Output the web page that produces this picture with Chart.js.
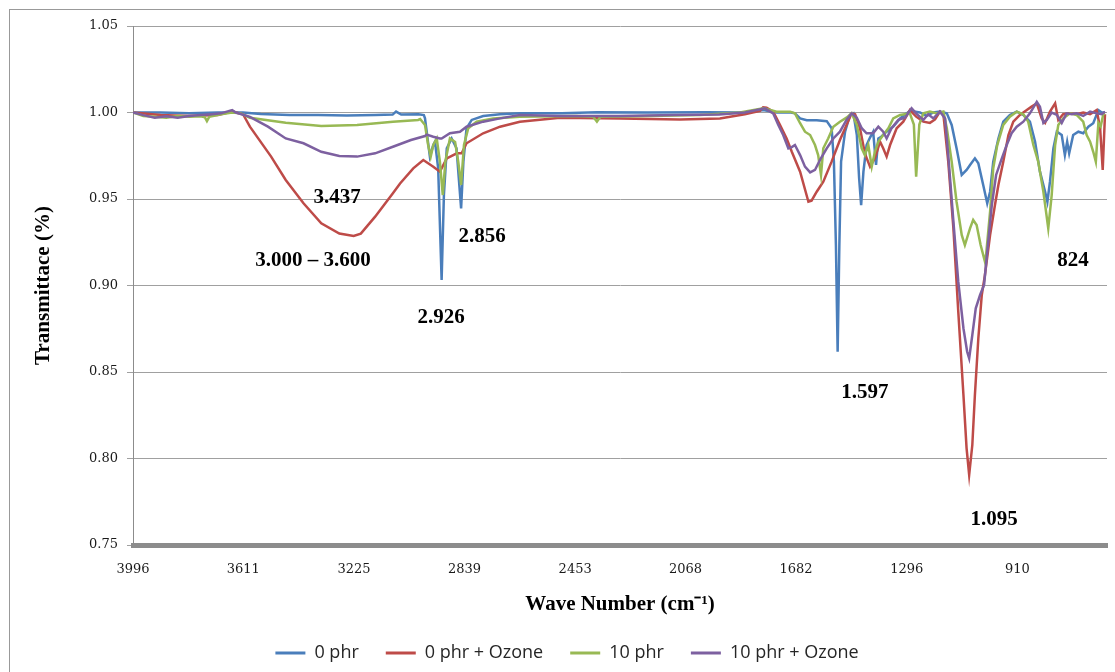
<!DOCTYPE html>
<html>
<head>
<meta charset="utf-8">
<title>FTIR spectra</title>
<script src="https://cdn.jsdelivr.net/npm/chart.js@4.4.1/dist/chart.umd.min.js"></script>
<style>
  html, body { margin: 0; padding: 0; background: #fff; }
  #wrap { position: relative; width: 1115px; height: 672px; }
</style>
</head>
<body>
<div id="wrap"><canvas id="ftirChart"></canvas></div>
<script>
// series names (legend)
const seriesNames = ["0 phr", "0 phr + Ozone", "10 phr", "10 phr + Ozone"];
const seriesColors = ["#4A7EBB", "#BE4B48", "#98B954", "#7D60A0"];

// x axis tick labels (wave number, cm-1)
const waveTicks = [3996, 3611, 3225, 2839, 2453, 2068, 1682, 1296, 910];

// 0 phr
const waveBlue = [3996, 3900, 3800, 3700, 3612, 3550, 3450, 3350, 3250, 3150,
  3090, 3078, 3060, 3000, 2981, 2977, 2971, 2966, 2960, 2948,
  2942, 2931, 2919, 2911, 2901, 2884, 2867, 2851, 2843, 2832,
  2814, 2774, 2715, 2646, 2500, 2377, 2200, 2000, 1850, 1797,
  1750, 1700, 1686, 1668, 1645, 1610, 1575, 1558, 1550, 1543,
  1537, 1531, 1525, 1511, 1494, 1482, 1470, 1462, 1455, 1447,
  1436, 1424, 1413, 1403, 1395, 1385, 1366, 1343, 1319, 1296,
  1285, 1250, 1226, 1203, 1180, 1156, 1139, 1122, 1104, 1087,
  1075, 1058, 1046, 1029, 1015, 1005, 994, 976, 959, 936,
  912, 889, 866, 848, 831, 813, 805, 796, 784, 772,
  755, 744, 736, 729, 715, 697, 680, 662, 645, 627,
  615, 604];
const transBlue = [1.000, 1.000, 0.9995, 1.000, 1.000, 0.9992, 0.9985, 0.9985, 0.9983, 0.9986,
  0.9988, 1.0005, 0.9988, 0.999, 0.9985, 0.9966, 0.9889, 0.9822, 0.9746, 0.9812,
  0.9831, 0.9677, 0.9032, 0.9523, 0.9793, 0.985, 0.9793, 0.9446, 0.9716, 0.9909,
  0.9957, 0.998, 0.999, 0.9995, 0.9995, 1.0002, 1.000, 1.0002, 1.000, 1.0015,
  1.000, 1.000, 0.9995, 0.9966, 0.9955, 0.9955, 0.995, 0.9909, 0.9716, 0.9234,
  0.8617, 0.9234, 0.9716, 0.9889, 0.9986, 0.9995, 0.987, 0.962, 0.9465, 0.9658,
  0.9812, 0.9855, 0.9889, 0.9697, 0.985, 0.986, 0.9889, 0.9918, 0.9966, 0.9995,
  1.001, 1.000, 0.998, 1.000, 1.0005, 0.9995, 0.9928, 0.9793, 0.9639, 0.9668,
  0.9697, 0.9735, 0.9706, 0.9581, 0.9475, 0.9542, 0.9716, 0.985, 0.9947, 0.9986,
  1.0005, 0.9986, 0.9947, 0.9831, 0.9658, 0.9542, 0.9484, 0.96, 0.9793, 0.9889,
  0.987, 0.9754, 0.9831, 0.9764, 0.987, 0.9889, 0.988, 0.9918, 0.9938, 1.0014,
  1.000, 1.000];

// 0 phr + Ozone
const waveRed = [3996, 3900, 3800, 3700, 3650, 3612, 3588, 3514, 3463, 3401,
  3339, 3276, 3226, 3201, 3151, 3089, 3064, 3018, 2983, 2948,
  2925, 2901, 2866, 2849, 2832, 2774, 2715, 2646, 2506, 2297,
  2087, 1948, 1861, 1808, 1797, 1785, 1762, 1738, 1715, 1697,
  1668, 1639, 1628, 1610, 1587, 1558, 1529, 1506, 1488, 1476,
  1459, 1442, 1424, 1407, 1389, 1378, 1366, 1354, 1331, 1308,
  1285, 1263, 1238, 1215, 1197, 1180, 1168, 1151, 1133, 1116,
  1098, 1087, 1078, 1067, 1058, 1046, 1034, 1023, 1005, 988,
  976, 959, 941, 924, 901, 877, 860, 842, 825, 813,
  796, 778, 767, 750, 726, 703, 680, 656, 633, 621,
  612, 604];
const transRed = [1.000, 0.9985, 0.998, 0.9985, 1.0005, 0.999, 0.9918, 0.9745, 0.961, 0.9475,
  0.936, 0.930, 0.9286, 0.930, 0.9398, 0.9533, 0.959, 0.9677, 0.9725, 0.9687,
  0.9658, 0.9735, 0.9764, 0.9764, 0.9822, 0.988, 0.9918, 0.9947, 0.997, 0.9965,
  0.996, 0.9965, 0.999, 1.001, 1.003, 1.0028, 1.0005, 0.9928, 0.985, 0.9773,
  0.9658, 0.9484, 0.949, 0.9542, 0.96, 0.9716, 0.9841, 0.9928, 0.9995, 0.999,
  0.9909, 0.9764, 0.9687, 0.9735, 0.9831, 0.9793, 0.9745, 0.9812, 0.9909, 0.9947,
  1.0014, 0.9976, 0.9947, 0.994, 0.996, 1.0005, 0.999, 0.9716, 0.933, 0.8849,
  0.8367, 0.8059, 0.7905, 0.8078, 0.8367, 0.8695, 0.8945, 0.906, 0.9292, 0.9465,
  0.9581, 0.9716, 0.987, 0.9947, 0.9986, 1.0014, 1.0034, 1.0053, 0.9966, 0.994,
  1.0005, 1.0053, 0.9957, 0.999, 0.9995, 0.999, 1.000, 0.999, 1.0014, 0.9909,
  0.9668, 0.999];

// 10 phr
const waveGreen = [3996, 3960, 3920, 3880, 3840, 3800, 3760, 3745, 3738, 3730,
  3689, 3650, 3620, 3588, 3463, 3339, 3214, 3089, 3001, 2994,
  2977, 2966, 2957, 2948, 2936, 2925, 2915, 2906, 2890, 2872,
  2861, 2851, 2841, 2826, 2797, 2739, 2646, 2450, 2390, 2377,
  2365, 2200, 2017, 1878, 1797, 1785, 1750, 1703, 1686, 1668,
  1651, 1633, 1616, 1605, 1595, 1587, 1570, 1552, 1529, 1506,
  1488, 1470, 1453, 1442, 1430, 1418, 1407, 1395, 1378, 1360,
  1343, 1319, 1285, 1271, 1263, 1252, 1238, 1215, 1191, 1168,
  1156, 1139, 1122, 1104, 1093, 1075, 1064, 1052, 1038, 1023,
  1019, 1005, 994, 980, 959, 936, 912, 889, 872, 854,
  837, 819, 802, 790, 778, 767, 750, 726, 703, 680,
  668, 656, 645, 636, 627, 619, 610, 604];
const transGreen = [1.000, 0.998, 0.9975, 0.997, 0.998, 0.9975, 0.9978, 0.9972, 0.995, 0.9975,
  0.999, 1.000, 0.9995, 0.997, 0.9941, 0.9922, 0.9928, 0.9947, 0.9957, 0.9962,
  0.9928, 0.9812, 0.9745, 0.9812, 0.985, 0.9716, 0.9523, 0.9716, 0.985, 0.983,
  0.9716, 0.9581, 0.9812, 0.9909, 0.9947, 0.9966, 0.9976, 0.998, 0.9975, 0.9947,
  0.9975, 0.998, 0.9985, 1.000, 1.0025, 1.002, 1.0005, 1.0005, 0.9995, 0.9938,
  0.9889, 0.987, 0.9812, 0.9754, 0.9639, 0.9793, 0.985, 0.9918, 0.9947, 0.997,
  0.9995, 0.9928, 0.9793, 0.9754, 0.9812, 0.9687, 0.9773, 0.9831, 0.987, 0.9909,
  0.9966, 0.9986, 0.9995, 0.993, 0.9629, 0.993, 0.9995, 1.0005, 0.9995, 1.0005,
  0.9909, 0.9716, 0.9484, 0.9292, 0.9234, 0.933, 0.9379, 0.935, 0.9234, 0.9138,
  0.9176, 0.9427, 0.9677, 0.9812, 0.9928, 0.9976, 1.0005, 0.999, 0.9947, 0.9812,
  0.9716, 0.9542, 0.933, 0.9523, 0.9812, 0.9928, 0.9966, 0.9995, 0.9986, 0.9947,
  0.987, 0.9831, 0.9773, 0.9716, 0.994, 0.992, 0.999, 0.9995];

// 10 phr + Ozone
const wavePurple = [3996, 3960, 3920, 3880, 3840, 3800, 3760, 3720, 3689, 3650,
  3637, 3588, 3525, 3463, 3401, 3339, 3276, 3214, 3151, 3089,
  3026, 2977, 2971, 2948, 2925, 2919, 2890, 2855, 2832, 2774,
  2715, 2646, 2500, 2300, 2100, 1950, 1861, 1791, 1762, 1744,
  1727, 1709, 1697, 1686, 1668, 1651, 1633, 1616, 1599, 1575,
  1552, 1529, 1506, 1488, 1470, 1453, 1436, 1413, 1395, 1378,
  1366, 1349, 1325, 1302, 1279, 1263, 1238, 1221, 1203, 1180,
  1162, 1151, 1133, 1116, 1098, 1085, 1078, 1067, 1055, 1040,
  1026, 1015, 999, 984, 964, 947, 930, 912, 889, 866,
  842, 831, 819, 807, 790, 772, 755, 738, 720, 703,
  680, 656, 633, 615, 604];
const transPurple = [1.000, 0.9985, 0.997, 0.9978, 0.997, 0.998, 0.9985, 0.999, 0.9995, 1.0014,
  1.000, 0.9975, 0.9918, 0.985, 0.9822, 0.9773, 0.9749, 0.9745, 0.9764, 0.9802,
  0.9841, 0.9864, 0.9872, 0.986, 0.985, 0.985, 0.988, 0.9889, 0.9918, 0.9947,
  0.9966, 0.9986, 0.998, 0.998, 0.9985, 0.9988, 1.000, 1.0024, 0.9995, 0.9928,
  0.987, 0.9793, 0.98, 0.9812, 0.9754, 0.9687, 0.9654, 0.9668, 0.9725, 0.9793,
  0.985, 0.9889, 0.9957, 0.9995, 0.997, 0.9909, 0.988, 0.988, 0.9918, 0.9889,
  0.985, 0.9909, 0.9957, 0.997, 1.0024, 0.9995, 0.9957, 0.999, 0.9966, 1.0005,
  0.9966, 0.9754, 0.9369, 0.9022, 0.8753, 0.8617, 0.8579, 0.8714, 0.8868, 0.8945,
  0.9003, 0.9195, 0.9465, 0.9639, 0.9735, 0.9812, 0.988, 0.9918, 0.9947, 0.9995,
  1.0062, 1.0034, 0.994, 0.9957, 1.000, 0.9986, 0.994, 0.9995, 0.999, 0.9995,
  0.998, 1.0005, 0.9995, 0.999, 1.0005];

// peak annotations (text placed at wave number / transmittance)
const peakText = ["3.437", "3.000 \u2013 3.600", "2.926", "2.856", "1.597", "1.095", "824"];
const peakWave = [3284, 3368, 2921, 2778, 1442, 991, 716];
const peakTrans = [0.9509, 0.9142, 0.8812, 0.928, 0.8379, 0.7645, 0.9142];

function toPoints(xs, ys) {
    return xs.map((x, i) => ({ x: x, y: ys[i] }));
}

const allWaves = [waveBlue, waveRed, waveGreen, wavePurple];
const allTrans = [transBlue, transRed, transGreen, transPurple];

// outer frame like the excel chart area
const framePlugin = {
    id: "frame",
    beforeDraw(chart) {
        const ctx = chart.ctx;
        ctx.save();
        ctx.fillStyle = "#fff";
        ctx.fillRect(0, 0, chart.width, chart.height);
        ctx.strokeStyle = "#999";
        ctx.lineWidth = 1;
        ctx.strokeRect(9.5, 9.5, chart.width + 40, chart.height + 40);
        ctx.restore();
    }
};

// bold peak labels
const peakPlugin = {
    id: "peaks",
    afterDatasetsDraw(chart) {
        const ctx = chart.ctx;
        const xs = chart.scales.x, ys = chart.scales.y;
        ctx.save();
        ctx.font = "bold 21px 'Liberation Serif', 'Times New Roman', serif";
        ctx.fillStyle = "#000";
        ctx.textAlign = "center";
        ctx.textBaseline = "middle";
        peakText.forEach((t, i) => {
            ctx.fillText(t, xs.getPixelForValue(peakWave[i]), ys.getPixelForValue(peakTrans[i]));
        });
        ctx.restore();
    }
};

const ctx = document.getElementById("ftirChart").getContext("2d");
const ftirChart = new Chart(ctx, {
    type: "line",
    data: {
        datasets: seriesNames.map((name, i) => ({
            label: name,
            data: toPoints(allWaves[i], allTrans[i]),
            borderColor: seriesColors[i],
            backgroundColor: seriesColors[i],
            borderWidth: 2.5,
            pointRadius: 0,
            tension: 0,
            fill: false,
            order: 4 - i
        }))
    },
    options: {
        responsive: true,
        maintainAspectRatio: false,
        animation: false,
        layout: { padding: { left: 27, right: 8, top: 26, bottom: 0 } },
        plugins: {
            tooltip: { enabled: false },
            legend: {
                position: "bottom",
                labels: {
                    boxWidth: 30,
                    boxHeight: 3,
                    padding: 27,
                    color: "#262626",
                    font: { family: "'Open Sans', sans-serif", size: 18 },
                    sort: (a, b) => a.datasetIndex - b.datasetIndex,
                    generateLabels: chart => Chart.defaults.plugins.legend.labels.generateLabels(chart)
                        .map(l => Object.assign(l, { lineWidth: 0 }))
                }
            }
        },
        scales: {
            x: {
                type: "linear",
                reverse: true,
                min: 597,
                max: 3996,
                afterBuildTicks: scale => { scale.ticks = waveTicks.map(v => ({ value: v })); },
                afterFit: scale => { scale.height = 72; },
                grid: { display: false, drawTicks: false },
                border: { display: true, color: "#8c8c8c", width: 5 },
                ticks: {
                    autoSkip: false,
                    maxRotation: 0,
                    padding: 17,
                    color: "#1a1a1a",
                    font: { family: "'DejaVu Serif', serif", size: 13 },
                    callback: v => String(v)
                },
                title: {
                    display: true,
                    text: "Wave Number (cm\u207B\u00B9)",
                    color: "#000",
                    padding: 0,
                    font: { family: "'Liberation Serif', serif", size: 21, weight: "bold" }
                }
            },
            y: {
                min: 0.75,
                max: 1.05,
                afterFit: scale => { scale.width = 106; },
                grid: { color: "#a0a0a0", lineWidth: 1, tickLength: 6 },
                border: { display: true, color: "#8c8c8c", width: 1 },
                ticks: {
                    stepSize: 0.05,
                    padding: 9,
                    color: "#1a1a1a",
                    font: { family: "'DejaVu Serif', serif", size: 13 },
                    callback: v => Number(v).toFixed(2)
                },
                title: {
                    display: true,
                    text: "Transmittace (%)",
                    color: "#000",
                    padding: { top: 4, bottom: 0 },
                    font: { family: "'Liberation Serif', serif", size: 21, weight: "bold" }
                }
            }
        }
    },
    plugins: [framePlugin, peakPlugin]
});
</script>
</body>
</html>
